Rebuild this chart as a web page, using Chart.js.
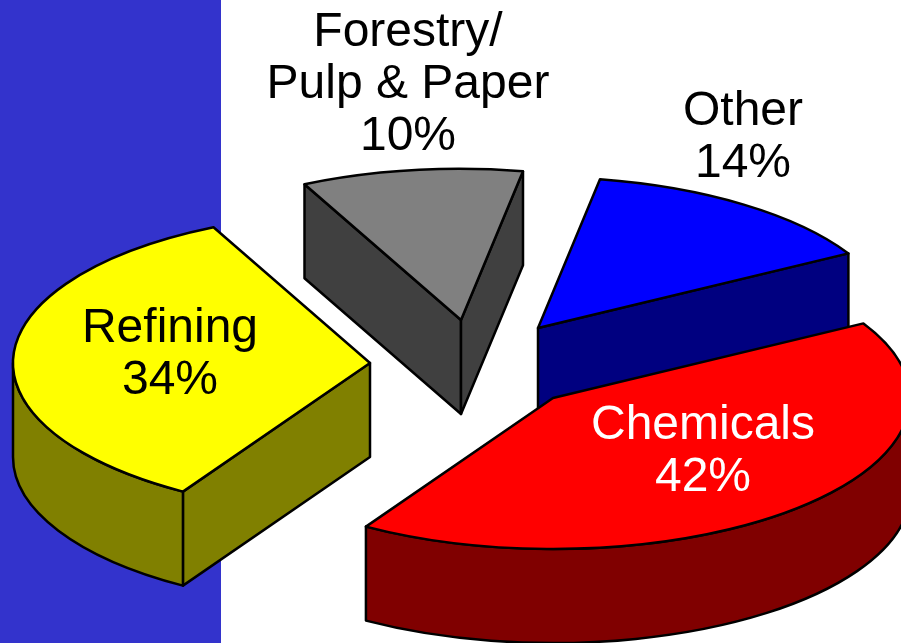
<!DOCTYPE html>
<html>
<head>
<meta charset="utf-8">
<title>Energy use by sector</title>
<script src="https://cdn.jsdelivr.net/npm/chart.js@4"></script>
<style>
    html, body { margin: 0; padding: 0; background: #fff; overflow: hidden; }
    canvas { display: block; }
</style>
</head>
<body>
<canvas id="pieChart" width="901" height="643"></canvas>
<script>
// Chart data, clockwise from the Forestry slice
const categories = ['Forestry/\nPulp & Paper', 'Other', 'Chemicals', 'Refining'];
const shares = [10, 14, 42, 34];

// Colours of each slice
const topColors = ['#808080', '#0000ff', '#ff0000', '#ffff00'];
const wallColors = ['#404040', '#000080', '#800000', '#808000'];
const labelColors = ['#000000', '#000000', '#ffffff', '#000000'];

// How far each slice is pulled out of the pie, in pixels on screen
const explodeX = [-14, 63, 78, -105];
const explodeY = [-44, -36, 34, -1];

// Centre of each label block
const labelX = [408, 743, 703, 170];
const labelY = [85, 138, 452, 355];

const squash = 0.423;   // ellipse height / width
const depth = 94;       // height of the extruded walls
const lineHeight = 52;

// Draws the slices as extruded wedges, back to front
const extrudedPie = {
    id: 'extrudedPie',
    beforeDatasetsDraw(chart) {
        const ctx = chart.ctx;
        const arcs = chart.getDatasetMeta(0).data;

        // Blue panel behind the Refining slice
        ctx.fillStyle = '#3333cc';
        ctx.fillRect(0, 0, 221, chart.height);

        ctx.lineWidth = 2.5;
        ctx.lineJoin = 'round';
        ctx.strokeStyle = '#000000';

        arcs.forEach((arc, i) => {
            const cx = arc.x + explodeX[i];
            const cy = arc.y + explodeY[i];
            const r = arc.outerRadius;
            const ry = r * squash;
            const start = arc.startAngle;
            const end = arc.endAngle;

            const edgePoint = (angle) => [cx + r * Math.cos(angle), cy + ry * Math.sin(angle)];

            const drawFlatWall = (angle) => {
                const [px, py] = edgePoint(angle);
                ctx.beginPath();
                ctx.moveTo(cx, cy);
                ctx.lineTo(px, py);
                ctx.lineTo(px, py + depth);
                ctx.lineTo(cx, cy + depth);
                ctx.closePath();
                ctx.fillStyle = wallColors[i];
                ctx.fill();
                ctx.stroke();
            };

            // Only the walls that face the viewer
            if (Math.cos(start) < 0) drawFlatWall(start);
            if (Math.cos(end) > 0) drawFlatWall(end);

            // Front part of the rim
            const rimStart = Math.max(start, 0);
            const rimEnd = Math.min(end, Math.PI);
            if (rimEnd > rimStart) {
                ctx.beginPath();
                ctx.ellipse(cx, cy, r, ry, 0, rimStart, rimEnd);
                ctx.ellipse(cx, cy + depth, r, ry, 0, rimEnd, rimStart, true);
                ctx.closePath();
                ctx.fillStyle = wallColors[i];
                ctx.fill();
                ctx.stroke();
            }

            // Top face, the library's own arc under a squashed transform
            ctx.save();
            ctx.translate(cx, cy);
            ctx.scale(1, squash);
            ctx.translate(-arc.x, -arc.y);
            arc.draw(ctx);
            ctx.restore();

            ctx.beginPath();
            ctx.moveTo(cx, cy);
            ctx.ellipse(cx, cy, r, ry, 0, start, end);
            ctx.closePath();
            ctx.stroke();
        });

        // Labels
        ctx.font = '48px "Liberation Sans", Arial, sans-serif';
        ctx.textAlign = 'center';
        ctx.textBaseline = 'middle';
        arcs.forEach((arc, i) => {
            const lines = categories[i].split('\n').concat(shares[i] + '%');
            const top = labelY[i] - (lines.length - 1) * lineHeight / 2;
            ctx.fillStyle = labelColors[i];
            lines.forEach((line, n) => ctx.fillText(line, labelX[i], top + n * lineHeight));
        });

        return false;
    }
};

const chart = new Chart(document.getElementById('pieChart').getContext('2d'), {
    type: 'pie',
    data: {
        labels: categories,
        datasets: [{
            data: shares,
            backgroundColor: topColors,
            borderWidth: 0
        }]
    },
    options: {
        responsive: false,
        animation: false,
        rotation: -26,
        radius: 357,
        layout: { padding: { left: 49, top: 85 } },
        plugins: {
            legend: { display: false },
            tooltip: { enabled: false }
        }
    },
    plugins: [extrudedPie]
});
</script>
</body>
</html>
